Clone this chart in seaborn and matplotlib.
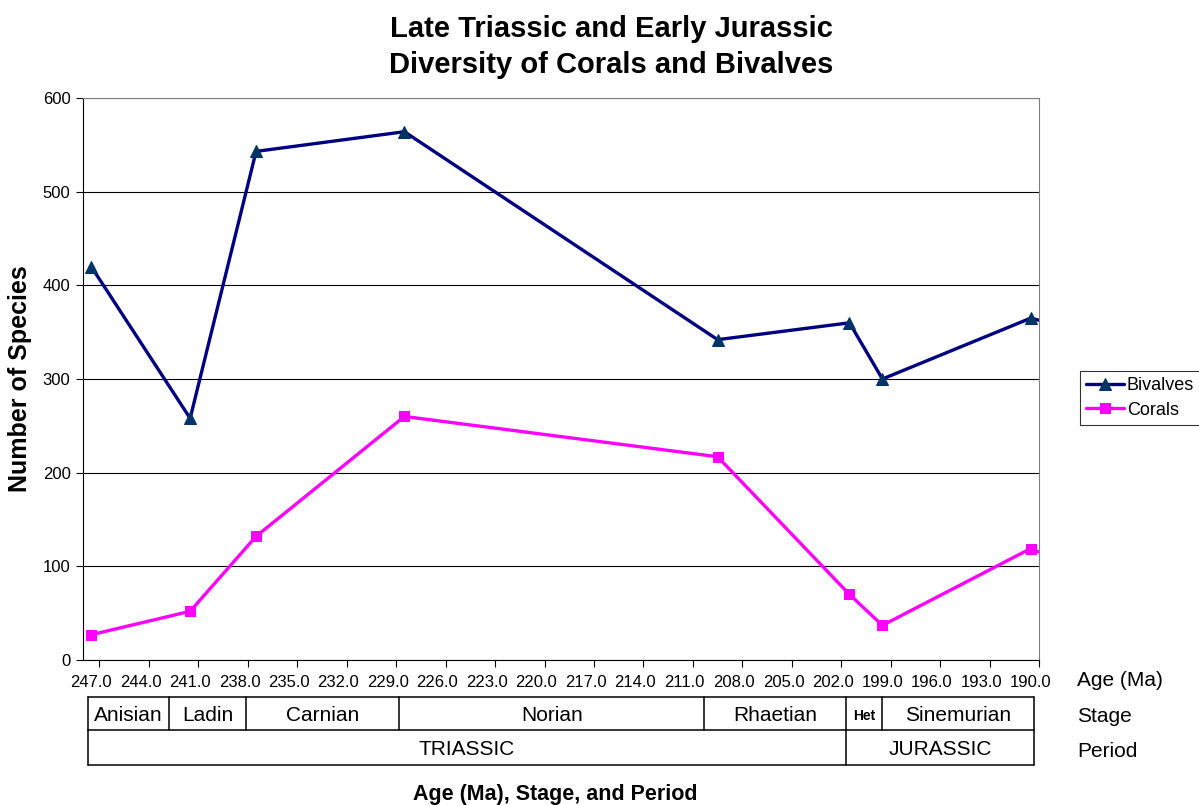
import numpy as np
import pandas as pd
import matplotlib
matplotlib.use("Agg")
import matplotlib.pyplot as plt
import matplotlib.transforms as mtransforms
from matplotlib.ticker import FixedLocator
import seaborn as sns

# Ages (Ma) of the sampled intervals and species counts
age = [247.0, 241.0, 237.0, 228.0, 209.0, 201.0, 199.0, 190.0, 183.0]
bivalves = [420, 258, 543, 564, 342, 360, 300, 365, 333]
corals = [27, 52, 132, 260, 217, 70, 37, 119, 66]

# Axis tick labels (Ma)
age_ticks = [247, 244, 241, 238, 235, 232, 229, 226, 223, 220,
             217, 214, 211, 208, 205, 202, 199, 196, 193, 190]

# Stage and period boundaries (Ma) for the time-scale table
stage_names = ["Anisian", "Ladin", "Carnian", "Norian", "Rhaetian", "Het", "Sinemurian"]
stage_bounds = [247.2, 242.3, 237.6, 228.3, 209.8, 201.2, 199.0, 189.8]
period_names = ["TRIASSIC", "JURASSIC"]
period_bounds = [247.2, 201.2, 189.8]

sns.set_theme(style="white")
plt.rcParams["font.family"] = ["Liberation Sans", "DejaVu Sans"]
plt.rcParams["text.color"] = "black"
plt.rcParams["axes.labelcolor"] = "black"

df = pd.DataFrame({"age": age, "Bivalves": bivalves, "Corals": corals})

fig = plt.figure(figsize=(11.99, 8.05), dpi=100)
ax = fig.add_axes([83 / 1199, 1 - 660 / 805, 956 / 1199, 562 / 805])

sns.lineplot(data=df, x="age", y="Bivalves", ax=ax, sort=False, color="#000080",
             lw=2.4, marker="^", markersize=9, markerfacecolor="#003366",
             markeredgecolor="#003366", label="Bivalves")
sns.lineplot(data=df, x="age", y="Corals", ax=ax, sort=False, color="#FF00FF",
             lw=2.4, marker="s", markersize=7, markerfacecolor="#FF00FF",
             markeredgecolor="#FF00FF", label="Corals")

ax.set_xlim(247.5, 189.5)
ax.set_ylim(0, 600)
ax.set_yticks(range(0, 601, 100))
ax.yaxis.grid(True, color="black", lw=0.8)
ax.xaxis.grid(False)

# Labels sit on the values, tick marks half a Ma to the right of them
ax.xaxis.set_major_locator(FixedLocator(age_ticks))
ax.set_xticklabels([f"{t:.1f}" for t in age_ticks])
ax.xaxis.set_minor_locator(FixedLocator([t - 0.5 for t in age_ticks]))
ax.tick_params(axis="x", which="major", length=0, pad=11, labelsize=12,
               colors="black", labelcolor="black")
ax.tick_params(axis="x", which="minor", length=5, width=0.8, color="black", bottom=True)
ax.tick_params(axis="y", which="major", length=5, width=0.8, color="black",
               left=True, labelsize=12, pad=4, labelcolor="black")

for side in ["top", "right"]:
    ax.spines[side].set_color("#808080")
    ax.spines[side].set_linewidth(0.8)
for side in ["left", "bottom"]:
    ax.spines[side].set_color("black")
    ax.spines[side].set_linewidth(0.8)

ax.set_xlabel("")
ax.set_ylabel("Number of Species", fontsize=18, fontweight="bold", color="black")
ax.yaxis.set_label_coords(-51 / 956, 0.5)

# Time-scale table below the axis
trans = mtransforms.blended_transform_factory(ax.transData, ax.transAxes)
y_top, y_mid, y_bot = (660 - 697) / 562, (660 - 730) / 562, (660 - 765) / 562
kw = dict(transform=trans, color="black", lw=1.1, clip_on=False)
ax.plot([stage_bounds[0], stage_bounds[-1]], [y_top, y_top], **kw)
ax.plot([stage_bounds[0], stage_bounds[-1]], [y_mid, y_mid], **kw)
ax.plot([period_bounds[0], period_bounds[-1]], [y_bot, y_bot], **kw)
for b in stage_bounds:
    ax.plot([b, b], [y_top, y_mid], **kw)
for b in period_bounds:
    ax.plot([b, b], [y_mid, y_bot], **kw)
for name, a, b in zip(stage_names, stage_bounds[:-1], stage_bounds[1:]):
    bold = name == "Het"
    ax.text((a + b) / 2, (y_top + y_mid) / 2 - 0.004, name, transform=trans,
            ha="center", va="center", fontsize=10 if bold else 15,
            fontweight="bold" if bold else "normal", color="black")
for name, a, b in zip(period_names, period_bounds[:-1], period_bounds[1:]):
    ax.text((a + b) / 2, (y_mid + y_bot) / 2 - 0.004, name, transform=trans,
            ha="center", va="center", fontsize=15, color="black")

for txt, ypx in [("Age (Ma)", 681), ("Stage", 716), ("Period", 751)]:
    fig.text(1077 / 1199, 1 - ypx / 805, txt, ha="left", va="center", fontsize=15, color="black")

fig.text(555 / 1199, 1 - 794 / 805, "Age (Ma), Stage, and Period", ha="center",
         va="center", fontsize=15.5, fontweight="bold", color="black")
fig.text(611 / 1199, 1 - 47 / 805, "Late Triassic and Early Jurassic\nDiversity of Corals and Bivalves",
         ha="center", va="center", fontsize=21, fontweight="bold", color="black",
         linespacing=1.4)

leg = ax.legend(loc="upper left", bbox_to_anchor=(1080 / 1199, 1 - 371 / 805),
                bbox_transform=fig.transFigure, fontsize=13, frameon=True,
                fancybox=False, edgecolor="black", handlelength=2.1,
                handletextpad=0.15, borderpad=0.35, labelspacing=0.4,
                borderaxespad=0)
leg.get_frame().set_linewidth(0.8)
for t in leg.get_texts():
    t.set_color("black")

fig.savefig("out.png", dpi=100)
